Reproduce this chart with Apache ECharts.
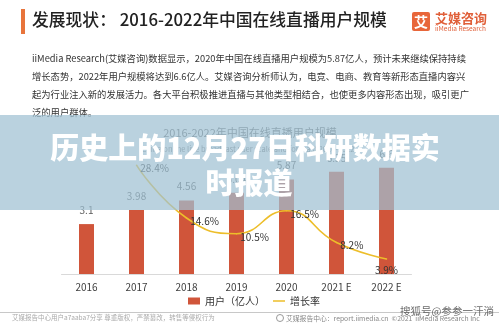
<!DOCTYPE html>
<html>
<head>
<meta charset="utf-8">
<script src="https://cdn.jsdelivr.net/npm/echarts@6/dist/echarts.min.js"></script>
<style>
html,body{margin:0;padding:0;background:#fff;}
#c{width:499px;height:324px;}
</style>
</head>
<body>
<div id="c"></div>
<script>
var categories = ['2016', '2017', '2018', '2019', '2020', '2021 E', '2022 E'];
var users = [3.1, 3.98, 4.56, 5.04, 5.87, 6.35, 6.6];
var growth = [null, 28.4, 14.6, 10.5, 16.5, 8.2, 3.9];
var seriesNames = ['用户（亿人）', '增长率'];
var headerTitle = '发展现状： 2016-2022年中国在线直播用户规模';
var bodyLines = [
  'iiMedia Research(艾媒咨询)数据显示，2020年中国在线直播用户规模为5.87亿人，预计未来继续保持持续',
  '增长态势，2022年用户规模将达到6.6亿人。艾媒咨询分析师认为，电竞、电商、教育等新形态直播内容兴',
  '起为行业注入新的发展活力。各大平台积极推进直播与其他类型相结合，也使更多内容形态出现，吸引更广',
  '泛的用户群体。'
];
var chartTitle = '2016-2022年中国在线直播用户规模';
var chartSubtitle = 'China online live broadcast user scale and forecast 2016-2022';
var overlayTitle = ['历史上的12月27日科研数据实', '时报道'];
var footerLeft = '艾媒报告中心用户a7aaba7分享 尊重版权，严禁篡改，转售等侵权行为';
var footerRight = '艾媒报告中心：report.iimedia.cn  ©2021  iiMedia Research Inc';
var watermark = '搜狐号@参参一汗淌';

var FONT = '"Noto Sans CJK SC", "Noto Sans", sans-serif';
var LINE_COLOR = '#EDBE2A';
var chart = echarts.init(document.getElementById('c'), null, {renderer: 'canvas'});

var graphics = [
  {type: 'rect', shape: {x: 21, y: 9, width: 4, height: 25}, style: {fill: '#E8743B'}, z: 10},
  {type: 'text', x: 32, y: 20, style: {text: headerTitle, font: '500 16.8px ' + FONT, fill: '#222', verticalAlign: 'middle'}, z: 10},
  {type: 'rect', shape: {x: 412, y: 12, width: 18, height: 19, r: 2}, style: {fill: '#E8663A'}, z: 10},
  {type: 'text', x: 421, y: 22, style: {text: '艾', font: 'bold 14px ' + FONT, fill: '#fff', align: 'center', verticalAlign: 'middle'}, z: 11},
  {type: 'text', x: 435, y: 18, style: {text: '艾媒咨询', font: 'bold 13px ' + FONT, fill: '#E0603A', verticalAlign: 'middle'}, z: 10},
  {type: 'text', x: 435, y: 29, style: {text: 'iiMedia Research', font: '6.5px ' + FONT, fill: '#E0603A', verticalAlign: 'middle'}, z: 10},
  {type: 'text', x: 250, y: 133, style: {text: chartTitle, font: '11px ' + FONT, fill: '#666', align: 'center', verticalAlign: 'middle'}, z: 0},
  {type: 'text', x: 248, y: 149, style: {text: chartSubtitle, font: '7.5px ' + FONT, fill: '#777', align: 'center', verticalAlign: 'middle'}, z: 0},
  {type: 'rect', shape: {x: 0, y: 115, width: 499, height: 95}, style: {fill: 'rgba(160,192,210,0.72)'}, z: 100},
  {type: 'text', x: 245, y: 148, style: {text: overlayTitle[0], font: '900 29px ' + FONT, fill: '#fff', align: 'center', verticalAlign: 'middle', shadowBlur: 3, shadowColor: 'rgba(0,0,0,0.15)'}, z: 101},
  {type: 'text', x: 249, y: 183, style: {text: overlayTitle[1], font: '900 29px ' + FONT, fill: '#fff', align: 'center', verticalAlign: 'middle', shadowBlur: 3, shadowColor: 'rgba(0,0,0,0.15)'}, z: 101},
  {type: 'line', shape: {x1: 0, y1: 312.5, x2: 499, y2: 312.5}, style: {stroke: '#c8c8c8', lineWidth: 1}, z: 10},
  {type: 'text', x: 12, y: 318, style: {text: footerLeft, font: '6.5px ' + FONT, fill: '#aaa', verticalAlign: 'middle'}, z: 10},
  {type: 'circle', shape: {cx: 280, cy: 318, r: 3.5}, style: {fill: 'none', stroke: '#999', lineWidth: 1}, z: 10},
  {type: 'text', x: 286, y: 318, style: {text: footerRight, font: '6.8px ' + FONT, fill: '#888', verticalAlign: 'middle'}, z: 10},
  {type: 'text', x: 400, y: 311, style: {text: watermark, font: '10.5px ' + FONT, fill: 'rgba(70,70,70,0.8)', verticalAlign: 'middle'}, z: 12}
];
var lineY = [58, 76, 94, 112];
bodyLines.forEach(function (t, i) {
  graphics.push({type: 'text', x: 32, y: lineY[i], style: {text: t, font: '9.3px ' + FONT, fill: '#333', verticalAlign: 'middle'}, z: 10});
});

var lastIdx = growth.length - 1;
var option = {
  backgroundColor: '#fff',
  animation: false,
  grid: {left: 61.5, right: 87.5, top: 113, bottom: 50},
  legend: {
    left: 183, top: 291,
    itemWidth: 12, itemHeight: 7, itemGap: 8,
    textStyle: {fontSize: 10, color: '#333', fontFamily: FONT},
    data: [
      {name: seriesNames[0], icon: 'rect'},
      {name: seriesNames[1], icon: 'path://M0,0 L16,0 L16,2 L0,2 Z', itemStyle: {color: LINE_COLOR, opacity: 1}}
    ]
  },
  xAxis: {
    type: 'category', data: categories,
    axisLine: {lineStyle: {color: '#d9d9d9', width: 1}},
    axisTick: {show: false},
    axisLabel: {fontSize: 10, color: '#404040', margin: 8, fontFamily: FONT}
  },
  yAxis: [
    {type: 'value', min: 0, max: 10, show: false, splitLine: {show: false}},
    {type: 'value', min: 0, max: 42, show: false, splitLine: {show: false}}
  ],
  series: [
    {
      name: seriesNames[0], type: 'bar', data: users, barWidth: 15,
      itemStyle: {color: '#D0553A'},
      label: {show: true, position: 'top', distance: 9, fontSize: 10, color: '#595959', fontFamily: FONT}
    },
    {
      name: seriesNames[1], type: 'line', yAxisIndex: 1, smooth: true,
      symbol: 'circle', symbolSize: 1.5, showSymbol: true,
      data: growth.map(function (v, i) {
        return i === lastIdx ? {value: v, label: {position: 'bottom', distance: 2}} : v;
      }),
      lineStyle: {color: LINE_COLOR, width: 1.6},
      itemStyle: {color: LINE_COLOR},
      label: {show: true, position: 'right', distance: 3, offset: [0, 3], fontSize: 10, color: '#333', fontFamily: FONT,
        formatter: function (p) { return p.value + '%'; }},
      z: 3
    }
  ],
  graphic: graphics
};
chart.setOption(option);
</script>
</body>
</html>
